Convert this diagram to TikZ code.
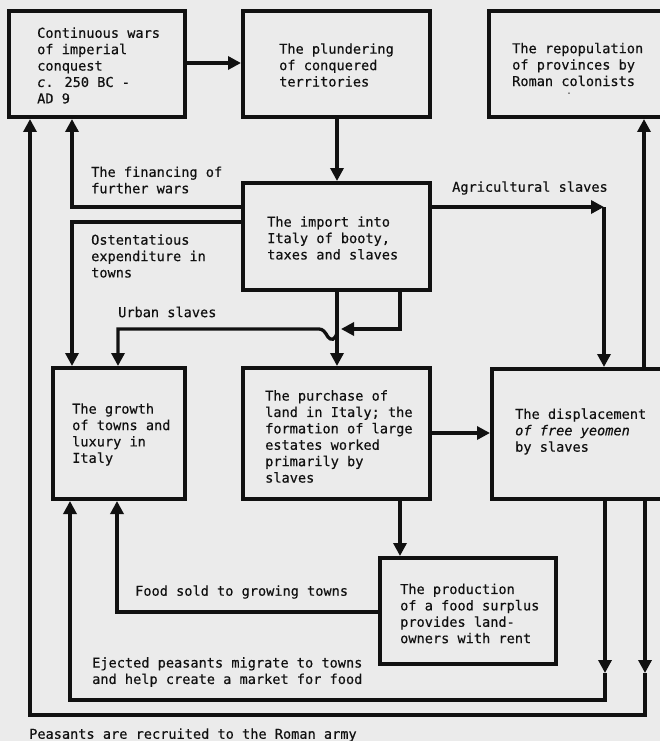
\documentclass[tikz,border=0pt]{standalone}
\usepackage{fontspec}
\newfontfamily\lbmono[FakeBold=0.4]{DejaVu Sans Mono}
\usetikzlibrary{arrows.meta}
\definecolor{ink}{HTML}{111111}
\definecolor{paper}{HTML}{EBEBEB}
\newcommand{\lbfont}{\lbmono\fontsize{13.6}{16.4}\selectfont}
\tikzset{
  box/.style={draw=ink, line width=4pt, rectangle, inner sep=0pt},
  conn/.style={draw=ink, line width=3.3pt},
  arr/.style={conn, -{Triangle[length=13pt,width=13pt]}},
  lbl/.style={font=\lbfont, align=left, anchor=west, inner sep=0pt, text=ink},
}
\begin{document}
\begin{tikzpicture}[x=1pt,y=-1pt]
\useasboundingbox (0,0) rectangle (660,741);
\fill[paper] (0,0) rectangle (660,741);
% boxes
\node[box, minimum width=176pt, minimum height=106pt] (wars) at (97,64) {};
\node[box, minimum width=187pt, minimum height=106pt] (plund) at (336.5,64) {};
\node[box, minimum width=200pt, minimum height=106pt] (repop) at (589,64) {};
\node[box, minimum width=187pt, minimum height=107pt] (import) at (336.5,236.5) {};
\node[box, minimum width=132pt, minimum height=131pt] (growth) at (119,433.5) {};
\node[box, minimum width=187pt, minimum height=131pt] (purch) at (336.5,433.5) {};
\node[box, minimum width=200pt, minimum height=130pt] (displ) at (592,434) {};
\node[box, minimum width=176pt, minimum height=106pt] (prod) at (468,611) {};
% box texts
\node[lbl] (twars) at (37,65.5) {Continuous wars\\of imperial\\conquest\\\textit{c}. 250 BC -\\AD 9};
\node[lbl] (tplund) at (279,65) {The plundering\\of conquered\\territories};
\node[lbl] (trepop) at (512,64.5) {The repopulation\\of provinces by\\Roman colonists};
\node[font=\lbmono\fontsize{7}{8}\selectfont, inner sep=0pt, text=ink] (tdot) at (569,94) {-};
\node[lbl] (timport) at (267,238) {The import into\\Italy of booty,\\taxes and slaves};
\node[lbl] (tgrowth) at (72,434.5) {The growth\\of towns and\\luxury in\\Italy};
\node[lbl] (tpurch) at (265,436.5) {The purchase of\\land in Italy; the\\formation of large\\estates worked\\primarily by\\slaves};
\node[lbl] (tdispl) at (515,431.5) {The displacement\\\textit{of free yeomen}\\by slaves};
\node[lbl] (tprod) at (400,613.5) {The production\\of a food surplus\\provides land-\\owners with rent};
% connector labels
\node[lbl] (lfin) at (91,180) {The financing of\\further wars};
\node[lbl] (lost) at (91,256) {Ostentatious\\expenditure in\\towns};
\node[lbl] (lurb) at (118,312) {Urban slaves};
\node[lbl] (lagr) at (452,188) {Agricultural slaves};
\node[lbl] (lfood) at (135,592) {Food sold to growing towns};
\node[lbl] (lej) at (92,672) {Ejected peasants migrate to towns\\and help create a market for food};
\node[lbl] (lpea) at (29,735) {Peasants are recruited to the Roman army};
% bend points
\coordinate (finc) at (72,207);
\coordinate (ostc) at (72,222);
\coordinate (agrc) at (604,207);
\coordinate (urbr) at (400,329);
\coordinate (urbj) at (341,329);
\coordinate (urbl) at (118,329);
\coordinate (foodc) at (117,612);
\coordinate (ejr) at (605,700);
\coordinate (ejl) at (70,700);
\coordinate (ejm) at (605,673);
\coordinate (armr) at (645,715);
\coordinate (arml) at (30,715);
\coordinate (armm) at (645,673);
% connectors
\draw[arr] (wars.east |- 0,63) -- (plund.west |- 0,63);
\draw[arr] (plund.south -| 337,0) -- (import.north -| 337,0);
\draw[arr] (import.south -| 337,0) -- (purch.north -| 337,0);
\draw[arr] (import.south -| urbr) -- (urbr) -- (urbj);
\draw[arr] (337,333) .. controls (335,340) and (331,341) .. (328,337)
  .. controls (325,332) and (323,329) .. (319,329) -- (urbl) -- (growth.north -| urbl);
\draw[arr] (import.west |- finc) -- (finc) -- (wars.south -| finc);
\draw[arr] (import.west |- ostc) -- (ostc) -- (growth.north -| ostc);
\draw[arr] (import.east |- agrc) -- (agrc);
\draw[arr] (agrc) -- (displ.north -| agrc);
\draw[arr] (displ.north -| 644,0) -- (repop.south -| 644,0);
\draw[arr] (purch.east |- 0,433) -- (displ.west |- 0,433);
\draw[arr] (purch.south -| 400,0) -- (prod.north -| 400,0);
\draw[arr] (prod.west |- foodc) -- (foodc) -- (growth.south -| foodc);
\draw[arr] (displ.south -| ejr) -- (ejm);
\draw[arr] (ejm) -- (ejr) -- (ejl) -- (growth.south -| ejl);
\draw[arr] (displ.south -| armr) -- (armm);
\draw[arr] (armm) -- (armr) -- (arml) -- (wars.south -| arml);
\end{tikzpicture}
\end{document}
